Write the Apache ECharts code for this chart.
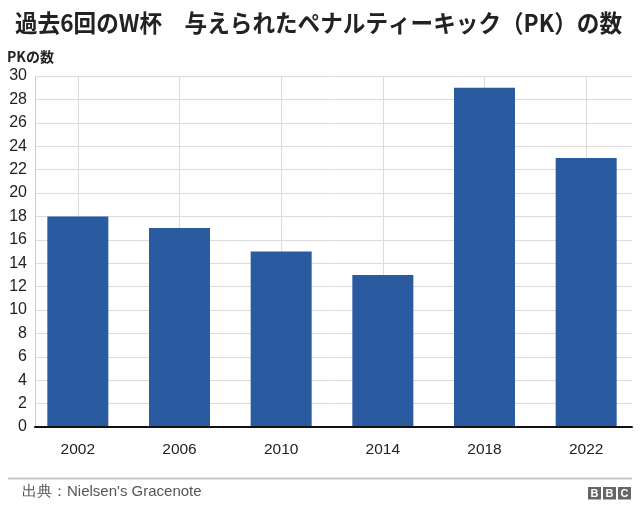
<!DOCTYPE html>
<html><head><meta charset="utf-8">
<script src="https://cdn.jsdelivr.net/npm/echarts@6/dist/echarts.min.js"></script>
<style>html,body{margin:0;padding:0;background:#fff}#c{width:640px;height:512px}</style>
</head><body><div id="c"></div>
<script>
const years = ['2002','2006','2010','2014','2018','2022'];
const penalties = [18, 17, 15, 13, 29, 23];
const yTicks = {min: 0, max: 30, step: 2};
const titleText = '過去6回のW杯　与えられたペナルティーキック（PK）の数';
const yName = 'PKの数';
const sourceText = '出典：Nielsen\'s Gracenote';

const chart = echarts.init(document.getElementById('c'), null, {renderer: 'canvas'});
const JP = '"Noto Sans CJK JP", "Noto Sans", sans-serif';
const LAT = '"Liberation Sans", Arial, sans-serif';
const TOP = 76, BOTTOM = 85;

const titleFont = 'bold 24px ' + JP;
const ctx = document.createElement('canvas').getContext('2d');
ctx.font = titleFont;
const tw = ctx.measureText(titleText).width || 607;
const titleScale = Math.min(1, 607 / tw);

chart.setOption({
  animation: false,
  backgroundColor: '#fff',
  grid: [
    {left: 35, right: 8, top: TOP, bottom: BOTTOM},
    {left: 27, right: 3, top: TOP, bottom: BOTTOM}
  ],
  xAxis: [
    {gridIndex: 0, type: 'category', data: years, boundaryGap: true,
     axisLine: {show: true, lineStyle: {color: '#111', width: 2}},
     axisTick: {show: false}, axisLabel: {show: false}, splitLine: {show: false}, z: 5},
    {gridIndex: 1, type: 'category', data: years, boundaryGap: true,
     axisLine: {show: false}, axisTick: {show: false},
     axisLabel: {show: true, color: '#222', fontFamily: LAT, fontSize: 15.5, margin: 15},
     splitLine: {show: false}}
  ],
  yAxis: [
    {gridIndex: 0, type: 'value', min: yTicks.min, max: yTicks.max, interval: yTicks.step,
     name: yName, nameLocation: 'end', nameGap: 12,
     nameTextStyle: {fontFamily: JP, fontWeight: 'bold', fontSize: 14, color: '#222', align: 'left', padding: [0,0,0,-28]},
     axisLine: {show: true, lineStyle: {color: '#ccc', width: 1}},
     axisTick: {show: false},
     axisLabel: {color: '#222', fontFamily: LAT, fontSize: 16, margin: 8},
     splitLine: {show: true, lineStyle: {color: '#dcdcdc', width: 1}}},
    {gridIndex: 1, type: 'value', min: yTicks.min, max: yTicks.max, interval: yTicks.step,
     show: false, splitLine: {show: false}}
  ],
  series: [{
    type: 'bar', xAxisIndex: 1, yAxisIndex: 1,
    data: penalties, barWidth: 61, z: 3,
    itemStyle: {color: '#2a5aa0'},
    markLine: {
      silent: true, symbol: 'none', z: 1,
      label: {show: false},
      lineStyle: {color: '#dcdcdc', width: 1, type: 'solid'},
      data: years.map(y => ({xAxis: y}))
    }
  }],
  graphic: [
    {type: 'text', x: 15, y: 23, scaleX: titleScale,
     style: {text: titleText, font: titleFont, fill: '#222', verticalAlign: 'middle'}},
    {type: 'line', shape: {x1: 8, y1: 478.5, x2: 632, y2: 478.5}, style: {stroke: '#c8c8c8', lineWidth: 2}},
    {type: 'text', x: 22, y: 492, style: {text: sourceText, font: '15px ' + LAT, fill: '#555', verticalAlign: 'middle'}},
    {type: 'group', x: 588, y: 487, children: [
      {type: 'rect', shape: {x: 0, y: 0, width: 13, height: 12.5}, style: {fill: '#666'}},
      {type: 'rect', shape: {x: 15, y: 0, width: 13, height: 12.5}, style: {fill: '#666'}},
      {type: 'rect', shape: {x: 30, y: 0, width: 13, height: 12.5}, style: {fill: '#666'}},
      {type: 'text', x: 6.5, y: 6.5, style: {text: 'B', font: 'bold 11px ' + LAT, fill: '#fff', align: 'center', verticalAlign: 'middle'}},
      {type: 'text', x: 21.5, y: 6.5, style: {text: 'B', font: 'bold 11px ' + LAT, fill: '#fff', align: 'center', verticalAlign: 'middle'}},
      {type: 'text', x: 36.5, y: 6.5, style: {text: 'C', font: 'bold 11px ' + LAT, fill: '#fff', align: 'center', verticalAlign: 'middle'}}
    ]}
  ]
});
</script></body></html>
